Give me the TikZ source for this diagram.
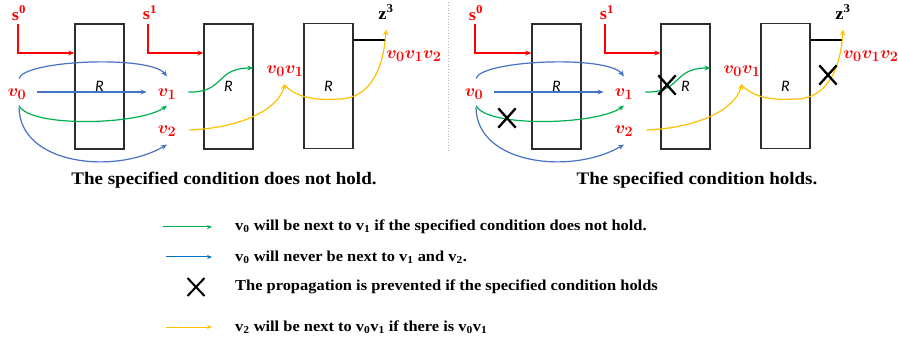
\documentclass[tikz,border=0pt]{standalone}
\usepackage{fontspec}
\setmainfont{Liberation Serif}[FakeStretch=1.08]
\newfontfamily\rfont{Carlito}
\usetikzlibrary{arrows.meta,shapes.misc}
\definecolor{cred}{RGB}{255,0,0}
\definecolor{cblue}{RGB}{68,114,196}
\definecolor{cgreen}{RGB}{0,176,80}
\definecolor{cyellow}{RGB}{255,192,0}
\definecolor{lblue}{RGB}{0,112,192}
\definecolor{boxgray}{RGB}{45,45,45}
\tikzset{
  rbox/.style={draw=boxgray, line width=1.4pt, minimum width=49pt, minimum height=125pt, inner sep=0pt,
    font=\rfont\itshape\fontsize{16}{16}\selectfont},
  arr/.style={-{Stealth[length=6pt,width=5pt]}, line width=1.2pt},
  mlab/.style={text=cred, font=\boldmath\fontsize{19}{20}\selectfont, inner sep=1pt},
  slab/.style={text=cred, font=\bfseries\fontsize{17}{18}\selectfont, inner sep=1pt},
  zlab/.style={text=black, font=\bfseries\fontsize{17}{18}\selectfont, inner sep=1pt},
  xmark/.style={cross out, draw=black, line width=2.3pt, minimum width=15pt, minimum height=17pt, inner sep=0pt},
  caption/.style={font=\bfseries\fontsize{17.6}{19}\selectfont, inner sep=0pt},
  legtext/.style={font=\bfseries\fontsize{15.2}{17}\selectfont, anchor=west, inner sep=0pt},
}
\newcommand\drawpanel[1]{%
  \node[rbox] (#1b1) at (99.5,86.5) {R};
  \node[rbox] (#1b2) at (228.5,86.5) {R};
  \node[rbox] (#1b3) at (328.5,86) {R};
  \node[slab] (#1s0) at (19,13) {s\textsuperscript{0}};
  \node[slab] (#1s1) at (150,13) {s\textsuperscript{1}};
  \node[zlab] (#1z) at (386,12) {z\textsuperscript{3}};
  \node[mlab] (#1v0) at (17,94) {$v_0$};
  \node[mlab] (#1v1) at (167,94) {$v_1$};
  \node[mlab] (#1v2) at (167,131) {$v_2$};
  \node[mlab] (#1v01) at (285,71) {$v_0v_1$};
  \node[mlab] (#1v012) at (414,56) {$v_0v_1v_2$};
  \draw[arr,cred] ([xshift=-1pt,yshift=-3pt]#1s0.south) |- (#1b1.west |- 0,53);
  \draw[arr,cred] ([xshift=-2pt,yshift=-3pt]#1s1.south) |- (#1b2.west |- 0,53);
  \draw[line width=1.2pt,black] (#1b3.east |- 0,40) -- (#1z.south |- 0,40);
  \draw[arr,cblue] ([xshift=2pt,yshift=9pt]#1v0.north) .. controls (25,60) and (150,55) .. ([yshift=11pt]#1v1.north);
  \draw[arr,cblue] ([xshift=10pt,yshift=2pt]#1v0.east) -- ([xshift=-10pt,yshift=2pt]#1v1.west);
  \draw[arr,cgreen] ([xshift=2pt,yshift=-5pt]#1v0.south) .. controls (30,128) and (140,125) .. ([yshift=-5pt]#1v1.south);
  \draw[arr,cblue] ([xshift=2pt,yshift=-7pt]#1v0.south) .. controls (20,165) and (115,175) .. ([yshift=-7pt]#1v2.south);
  \draw[arr,cgreen] ([xshift=11pt,yshift=2pt]#1v1.east) .. controls (225,93) and (215,68) .. ([xshift=-12pt,yshift=3pt]#1v01.west);
  \draw[arr,cyellow] ([xshift=12pt,yshift=1pt]#1v2.east) .. controls (240,128) and (278,110) .. ([yshift=-6pt]#1v01.south);
  \draw[arr,cyellow] ([yshift=-8pt]#1v01.south) .. controls (300,100) and (320,100) .. (340,99)
      .. controls (372,98) and (384,65) .. ([yshift=-9pt]#1z.south);
}
\begin{document}
\begin{tikzpicture}[x=1pt,y=-1pt]
  \useasboundingbox (0,0) rectangle (898,342);
  \drawpanel{L}
  \begin{scope}[xshift=457pt]
    \drawpanel{R}
  \end{scope}
  \node[xmark] (x1) at (507,118) {};
  \node[xmark] (x2) at (667,85) {};
  \node[xmark] (x3) at (828,75) {};
  \coordinate (sepT) at (448,2);
  \coordinate (sepB) at (448,152);
  \draw[gray!60, dotted, line width=0.8pt] (sepT) -- (sepB);
  \node[caption] (cap1) at (224,180) {The specified condition does not hold.};
  \node[caption] (cap2) at (697,180) {The specified condition holds.};
  % legend
  \coordinate (g1) at (163,227); \coordinate (g2) at (212,227);
  \coordinate (b1) at (166,257); \coordinate (b2) at (212,257);
  \coordinate (y1) at (166,327); \coordinate (y2) at (212,327);
  \draw[-{Stealth[length=5pt,width=4pt]}, line width=1pt, cgreen] (g1) -- (g2);
  \draw[-{Stealth[length=5pt,width=4pt]}, line width=1pt, lblue] (b1) -- (b2);
  \draw[-{Stealth[length=5pt,width=4pt]}, line width=1pt, cyellow] (y1) -- (y2);
  \node[xmark, minimum width=15pt, minimum height=16pt, line width=2pt] (lx) at (196,287) {};
  \node[legtext] (t1) at (235,227) {v\textsubscript{0} will be next to v\textsubscript{1} if the specified condition does not hold.};
  \node[legtext] (t2) at (235,257) {v\textsubscript{0} will never be next to v\textsubscript{1} and v\textsubscript{2}.};
  \node[legtext] (t3) at (235,287) {The propagation is prevented if the specified condition holds};
  \node[legtext] (t4) at (235,327) {v\textsubscript{2} will be next to v\textsubscript{0}v\textsubscript{1} if there is v\textsubscript{0}v\textsubscript{1}};
\end{tikzpicture}
\end{document}
